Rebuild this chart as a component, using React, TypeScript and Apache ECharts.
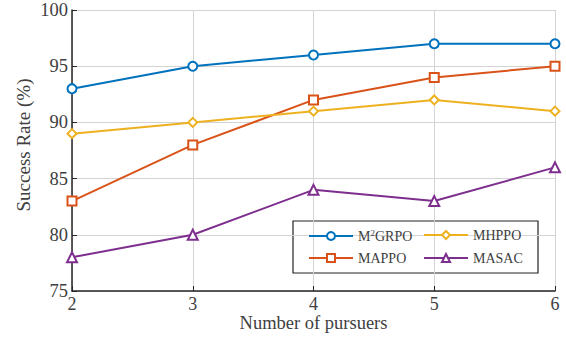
import React, { useEffect, useRef } from "react";
import * as echarts from "echarts";

const xValues = [2, 3, 4, 5, 6];
const m2grpo = [93, 95, 96, 97, 97];
const mappo = [83, 88, 92, 94, 95];
const mhppo = [89, 90, 91, 92, 91];
const masac = [78, 80, 84, 83, 86];

const seriesNames = ["M2GRPO", "MAPPO", "MHPPO", "MASAC"];
const seriesColors = ["#0072BD", "#D95319", "#EDB120", "#7E2F8E"];
const seriesSymbols = ["circle", "rect", "diamond", "triangle"];

const FONT = "'Liberation Serif', 'Times New Roman', serif";
const TXT = "#404040";

export default function App() {
  const ref = useRef<HTMLDivElement>(null);
  useEffect(() => {
    if (!ref.current) return;
    const chart = echarts.init(ref.current, null, { renderer: "svg" });
    const data = [m2grpo, mappo, mhppo, masac];
    const legendPos = [
      { left: 308, top: 228 },
      { left: 308, top: 251 },
      { left: 423, top: 228 },
      { left: 423, top: 251 },
    ];
    const option: any = {
      animation: false,
      backgroundColor: "#fff",
      grid: {
        left: 72,
        right: 11,
        top: 10,
        bottom: 46,
        containLabel: false,
        outerBoundsMode: "none",
      },
      xAxis: {
        type: "value",
        min: 2,
        max: 6,
        interval: 1,
        name: "Number of pursuers",
        nameLocation: "middle",
        nameGap: 22.5,
        nameMoveOverlap: false,
        nameTextStyle: { fontFamily: FONT, fontSize: 18.5, color: TXT, verticalAlign: "top" },
        axisLine: { lineStyle: { color: "#262626", width: 1.5 } },
        axisTick: { inside: true, length: 5, lineStyle: { color: "#262626" } },
        axisLabel: { fontFamily: FONT, fontSize: 18, color: TXT, margin: 4 },
        splitLine: { show: true, lineStyle: { color: "#d4d4d4", width: 1 } },
      },
      yAxis: {
        type: "value",
        min: 75,
        max: 100,
        interval: 5,
        name: "Success Rate (%)",
        nameLocation: "middle",
        nameGap: 39,
        nameMoveOverlap: false,
        nameRotate: 90,
        nameTextStyle: { fontFamily: FONT, fontSize: 19, color: TXT, padding: [0, 0, 0, 11] },
        axisLine: { show: true, lineStyle: { color: "#262626", width: 1.5 } },
        axisTick: { show: true, inside: true, length: 5, lineStyle: { color: "#262626" } },
        axisLabel: { fontFamily: FONT, fontSize: 18.5, color: TXT, margin: 4 },
        splitLine: { show: true, lineStyle: { color: "#d4d4d4", width: 1 } },
      },
      legend: seriesNames.map((n, i) => ({
        data: [n],
        left: legendPos[i].left,
        top: legendPos[i].top,
        padding: 0,
        itemWidth: 44,
        itemHeight: 10,
        itemGap: 0,
        textStyle: {
          fontFamily: FONT,
          fontSize: 14,
          color: TXT,
          rich: {
            a: { fontFamily: FONT, fontSize: 14, color: TXT },
            s: { fontFamily: FONT, fontSize: 9, color: TXT, verticalAlign: "top", padding: [0, 0, 7, 0] },
          },
        },
        formatter: (name: string) =>
          name === "M2GRPO" ? "{a|M}{s|2}{a|GRPO}" : name,
      })),
      graphic: [
        {
          type: "rect",
          shape: { x: 293, y: 221, width: 245, height: 52 },
          style: { fill: "#fff", stroke: "#222", lineWidth: 1.2 },
          z: 0,
        },
      ],
      series: seriesNames.map((n, i) => ({
        name: n,
        type: "line",
        data: xValues.map((x, j) => [x, data[i][j]]),
        symbol: seriesSymbols[i],
        symbolSize: i === 3 ? 10 : 9,
        showAllSymbol: true,
        itemStyle: { color: "#fff", borderColor: seriesColors[i], borderWidth: 2 },
        lineStyle: { color: seriesColors[i], width: 2 },
        color: seriesColors[i],
        z: 3,
      })),
    };
    chart.setOption(option);
    return () => chart.dispose();
  }, []);
  return (
    <div
      ref={ref}
      style={{ position: "fixed", left: 0, top: 0, width: 566, height: 337 }}
    />
  );
}
